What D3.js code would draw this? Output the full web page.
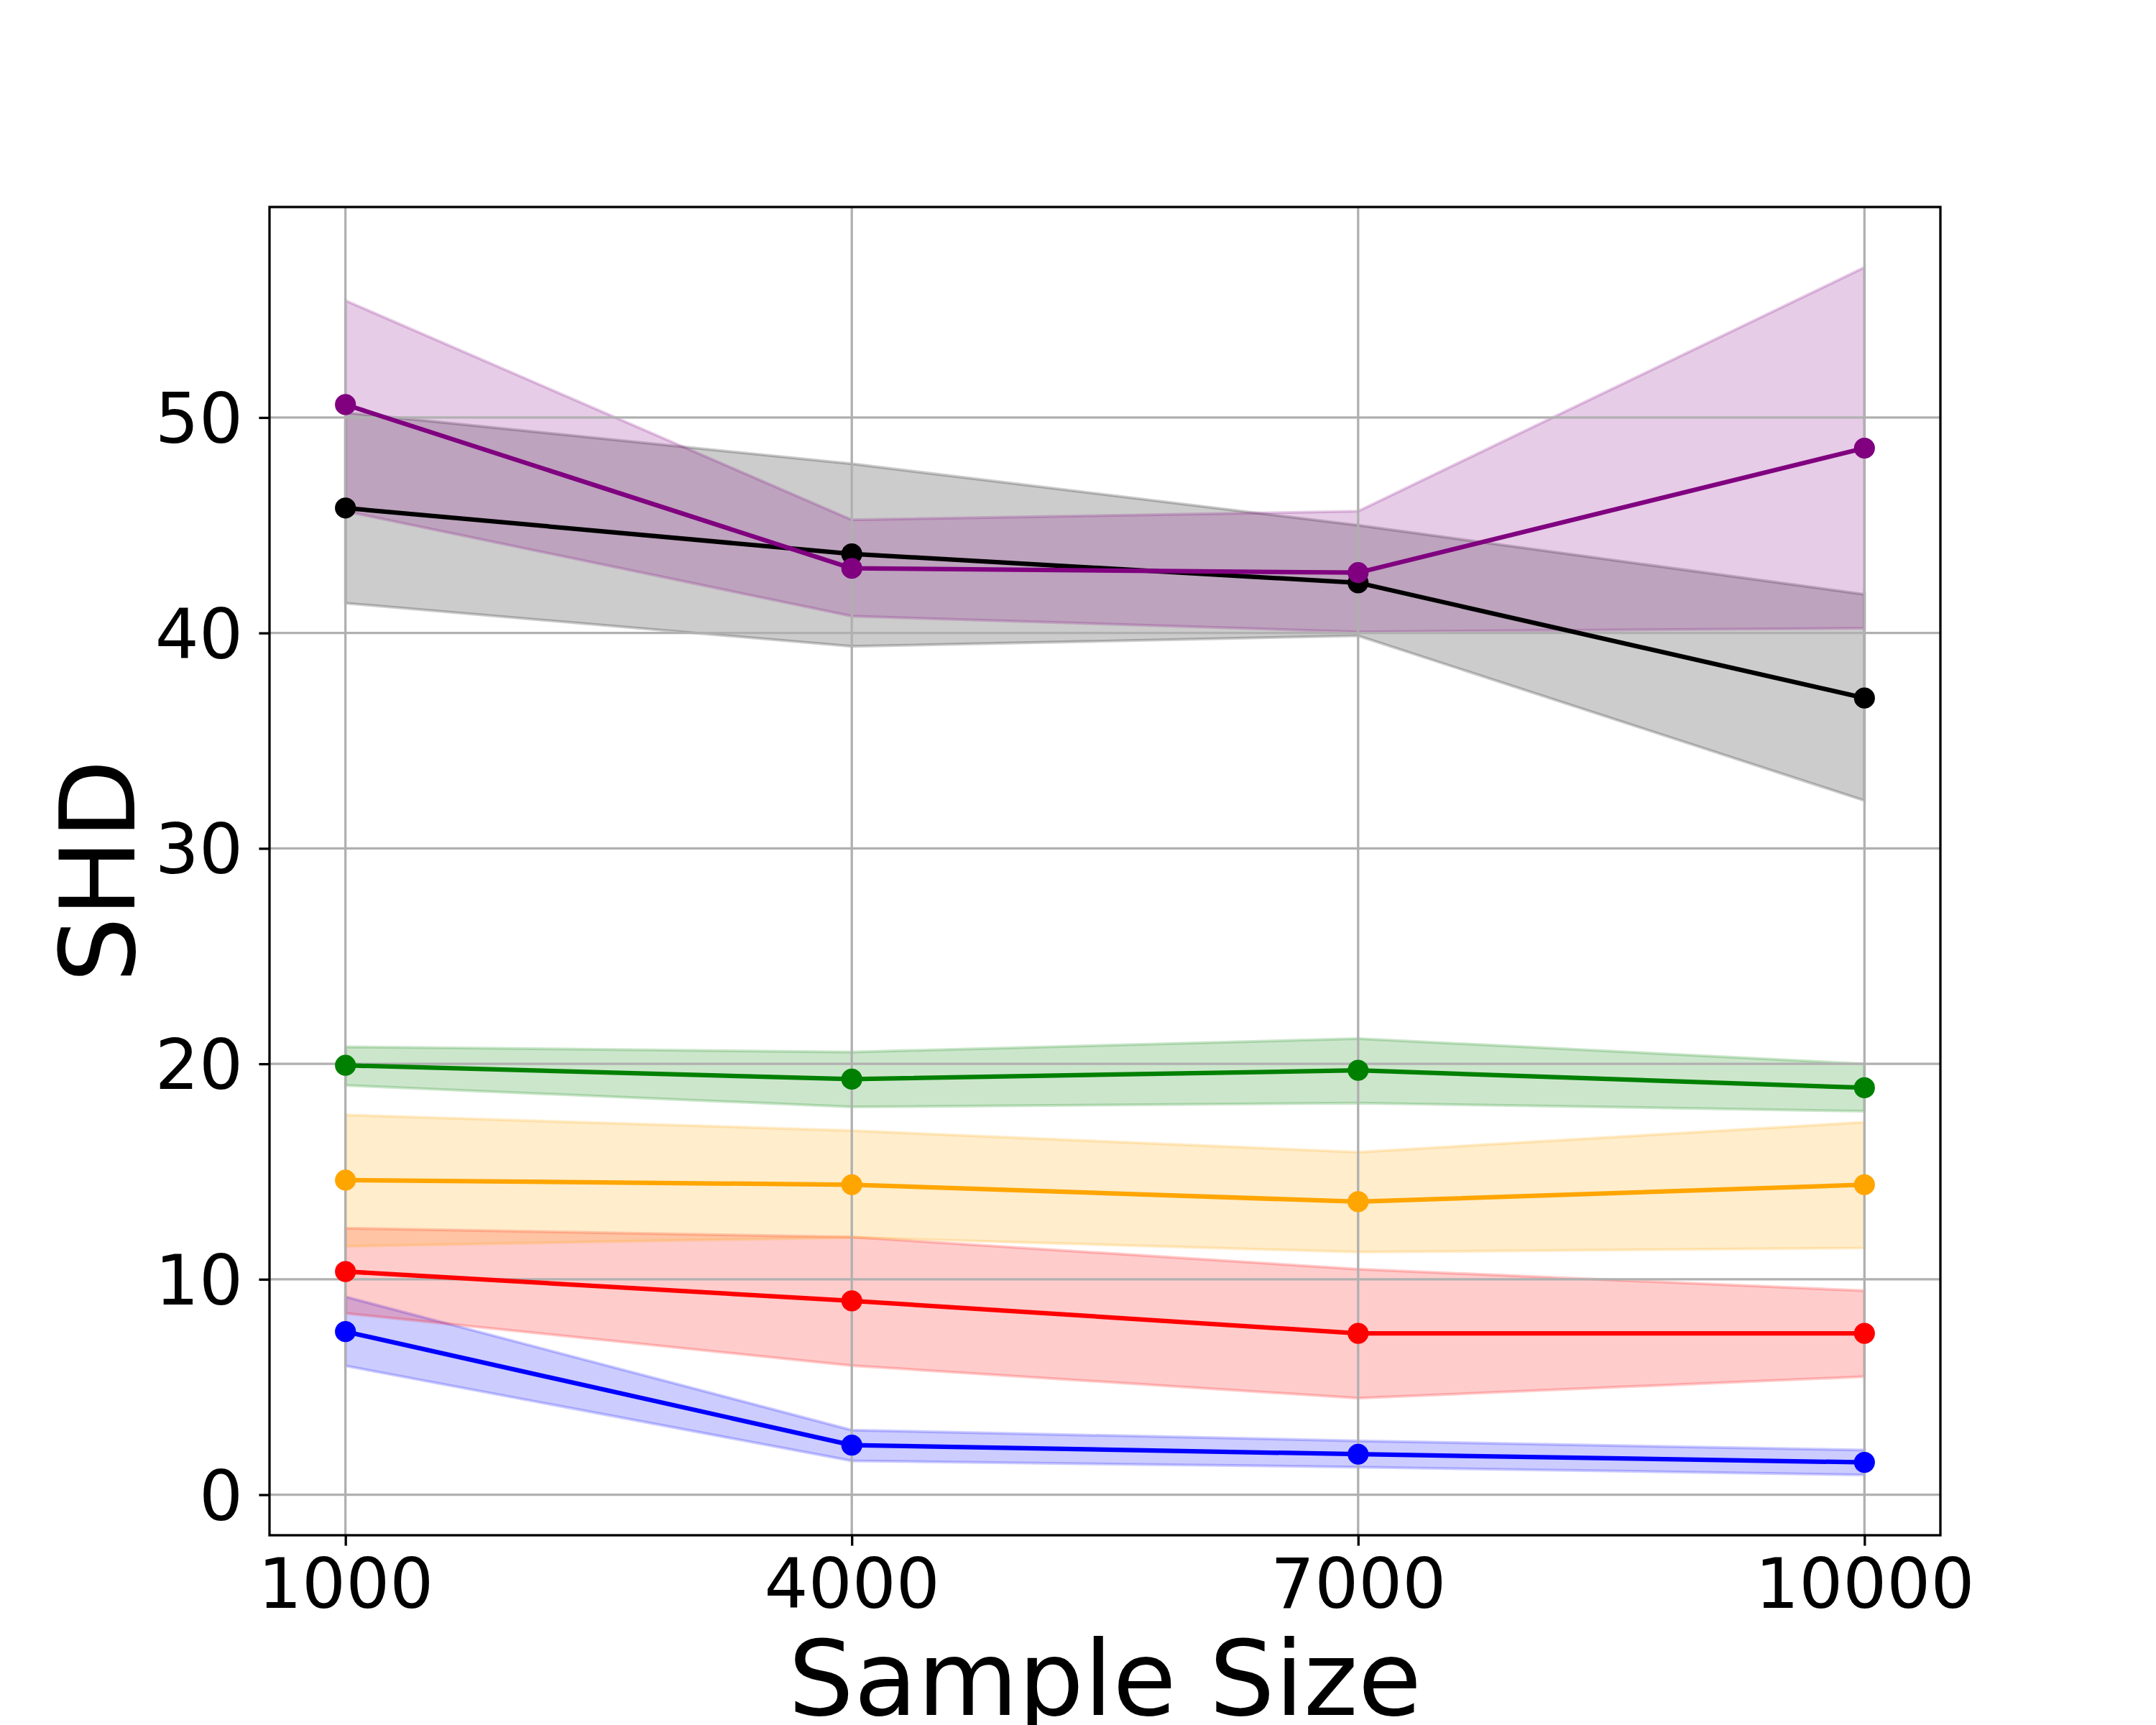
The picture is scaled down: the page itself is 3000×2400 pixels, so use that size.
<!DOCTYPE html>
<html>
<head>
<meta charset="utf-8">
<script src="https://cdn.jsdelivr.net/npm/d3@7"></script>
<style>
  html, body { margin: 0; padding: 0; background: #fff; }
  svg { display: block; }
  text { font-family: "DejaVu Sans", sans-serif; fill: #000; }
</style>
</head>
<body>
<svg id="chart" width="3000" height="2400"></svg>
<script>
// ---- data ----
const sampleSizes = [1000, 4000, 7000, 10000];
const xTickLabels = ["1000", "4000", "7000", "10000"];
const yTickValues = [0, 10, 20, 30, 40, 50];

const seriesNames = ["blue", "red", "orange", "green", "black", "purple"];
const seriesColors = ["#0000ff", "#ff0000", "#ffa500", "#008000", "#000000", "#800080"];

const blueMean  = [7.57, 2.30, 1.88, 1.50];
const blueLow   = [5.98, 1.57, 1.28, 0.92];
const blueHigh  = [9.19, 3.00, 2.50, 2.07];

const redMean   = [10.36, 9.00, 7.49, 7.49];
const redLow    = [8.42, 5.99, 4.48, 5.48];
const redHigh   = [12.37, 11.96, 10.47, 9.47];

const orangeMean = [14.60, 14.39, 13.60, 14.39];
const orangeLow  = [11.53, 11.94, 11.26, 11.45];
const orangeHigh = [17.63, 16.90, 15.90, 17.29];

const greenMean = [19.93, 19.29, 19.70, 18.89];
const greenLow  = [19.00, 18.00, 18.18, 17.80];
const greenHigh = [20.79, 20.55, 21.17, 20.00];

const blackMean = [45.80, 43.67, 42.33, 36.98];
const blackLow  = [41.38, 39.38, 39.87, 32.22];
const blackHigh = [50.23, 47.85, 45.00, 41.79];

const purpleMean = [50.60, 43.00, 42.80, 48.58];
const purpleLow  = [45.65, 40.78, 40.05, 40.22];
const purpleHigh = [55.43, 45.25, 45.65, 56.97];

const means = [blueMean, redMean, orangeMean, greenMean, blackMean, purpleMean];
const lows  = [blueLow, redLow, orangeLow, greenLow, blackLow, purpleLow];
const highs = [blueHigh, redHigh, orangeHigh, greenHigh, blackHigh, purpleHigh];

const xLabel = "Sample Size";
const yLabel = "SHD";

// ---- layout ----
const W = 3000, H = 2400;
const mLeft = 375, mRight = 2700, mTop = 288, mBottom = 2136;

const xMin = d3.min(sampleSizes), xMax = d3.max(sampleSizes);
const xPad = (xMax - xMin) * 0.05;
const allLow = d3.min(lows.flat()), allHigh = d3.max(highs.flat());
const yPad = (allHigh - allLow) * 0.05;

const x = d3.scaleLinear().domain([xMin - xPad, xMax + xPad]).range([mLeft, mRight]);
const y = d3.scaleLinear().domain([allLow - yPad, allHigh + yPad]).range([mBottom, mTop]);

const svg = d3.select("#chart");

const series = seriesNames.map((name, i) => ({
  name, color: seriesColors[i],
  pts: sampleSizes.map((s, j) => ({ x: s, m: means[i][j], lo: lows[i][j], hi: highs[i][j] }))
}));

// fills
const area = d3.area().x(d => x(d.x)).y0(d => y(d.lo)).y1(d => y(d.hi));
svg.append("g").selectAll("path").data(series).join("path")
  .attr("d", d => area(d.pts))
  .attr("fill", d => d.color).attr("fill-opacity", 0.2)
  .attr("stroke", d => d.color).attr("stroke-opacity", 0.2)
  .attr("stroke-width", 4).attr("stroke-linejoin", "miter");

// grid
const grid = svg.append("g");
grid.selectAll("line.gx").data(sampleSizes).join("line").attr("class", "gx")
  .attr("x1", d => x(d)).attr("x2", d => x(d)).attr("y1", mTop).attr("y2", mBottom)
  .attr("stroke", "#b0b0b0").attr("stroke-width", 3.3);
grid.selectAll("line.gy").data(yTickValues).join("line").attr("class", "gy")
  .attr("y1", d => y(d)).attr("y2", d => y(d)).attr("x1", mLeft).attr("x2", mRight)
  .attr("stroke", "#b0b0b0").attr("stroke-width", 3.3);

// lines + markers
const line = d3.line().x(d => x(d.x)).y(d => y(d.m));
const sg = svg.append("g").selectAll("g").data(series).join("g");
sg.append("path").attr("d", d => line(d.pts))
  .attr("fill", "none").attr("stroke", d => d.color).attr("stroke-width", 6.25)
  .attr("stroke-linejoin", "round").attr("stroke-linecap", "square");
sg.selectAll("circle").data(d => d.pts.map(p => ({ ...p, color: d.color }))).join("circle")
  .attr("cx", d => x(d.x)).attr("cy", d => y(d.m)).attr("r", 12.5)
  .attr("fill", d => d.color).attr("stroke", d => d.color).attr("stroke-width", 4.2);

// axes
const xAxis = d3.axisBottom(x).tickValues(sampleSizes)
  .tickFormat((d, i) => xTickLabels[i]).tickSizeInner(14.6).tickSizeOuter(0).tickPadding(16);
const gx = svg.append("g").attr("transform", `translate(0,${mBottom})`).call(xAxis);
gx.select(".domain").remove();
gx.selectAll(".tick line").attr("stroke", "#000").attr("stroke-width", 3.3);
gx.selectAll(".tick text").attr("font-size", 96).attr("font-family", "DejaVu Sans")
  .attr("fill", "#000").attr("dy", null).attr("y", 101);

const yAxis = d3.axisLeft(y).tickValues(yTickValues).tickFormat(d3.format("d"))
  .tickSizeInner(14.6).tickSizeOuter(0).tickPadding(20);
const gy = svg.append("g").attr("transform", `translate(${mLeft},0)`).call(yAxis);
gy.select(".domain").remove();
gy.selectAll(".tick line").attr("stroke", "#000").attr("stroke-width", 3.3);
gy.selectAll(".tick text").attr("font-size", 96).attr("font-family", "DejaVu Sans")
  .attr("fill", "#000").attr("x", -37).attr("dy", "0.36em");

// spines
svg.append("rect").attr("x", mLeft).attr("y", mTop).attr("width", mRight - mLeft).attr("height", mBottom - mTop)
  .attr("fill", "none").attr("stroke", "#000").attr("stroke-width", 3.3);

// labels
svg.append("text").attr("x", (mLeft + mRight) / 2).attr("y", 2386)
  .attr("text-anchor", "middle").attr("font-size", 144).text(xLabel);
svg.append("text").attr("transform", `translate(187,${(mTop + mBottom) / 2}) rotate(-90)`)
  .attr("text-anchor", "middle").attr("font-size", 144).text(yLabel);
</script>
</body>
</html>
